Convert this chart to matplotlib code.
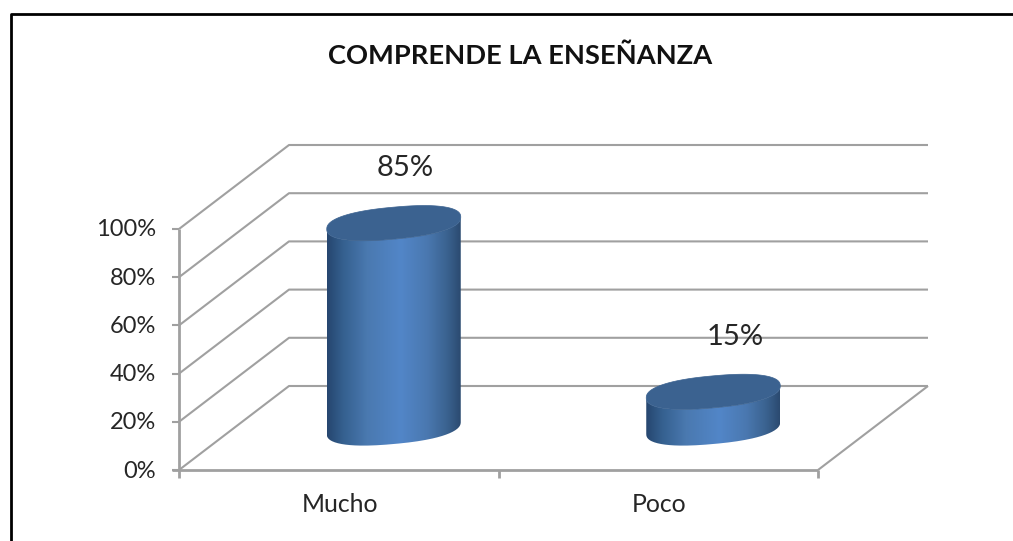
import numpy as np
import matplotlib
matplotlib.use('Agg')
import matplotlib.pyplot as plt
from matplotlib.colors import LinearSegmentedColormap
from matplotlib.patches import PathPatch, Polygon
from matplotlib.path import Path

categories = ['Mucho', 'Poco']
values = [85, 15]
value_labels = ['85%', '15%']
y_ticks = [0, 20, 40, 60, 80, 100]
y_tick_labels = ['0%', '20%', '40%', '60%', '80%', '100%']
title = 'COMPRENDE LA ENSEÑANZA'

W, H = 1013, 541
plt.rcParams['font.family'] = ['Lato', 'DejaVu Sans']

fig = plt.figure(figsize=(W / 100, H / 100), dpi=100)
# front plane of the 3d box, from 179..818 px across and 229..470 px down
ax = fig.add_axes([179 / W, 1 - 470 / H, 639 / W, 241 / H])
ax.set_xlim(0, len(categories))
ax.set_ylim(0, 100)
ax.axis('off')

# one pixel in data units, and the depth of the box
px = len(categories) / 639
py = 100 / 241
dx = 110 * px
dy = 84 * py
grid = '#a0a0a0'


def line(xs, ys, lw=1.5):
    ax.plot(xs, ys, color=grid, lw=lw, clip_on=False, solid_capstyle='butt', zorder=2)


# walls
for v in y_ticks:
    line([0, dx, len(categories) + dx], [v, v + dy, v + dy])
    line([-7 * px, 0], [v, v])
line([0, 0], [0, 100], 2)
# floor
line([-7 * px, len(categories)], [0, 0], 2)
line([len(categories), len(categories) + dx], [0, dy])
for i in range(len(categories) + 1):
    line([i, i], [0, -8 * py], 2)

for v, lab in zip(y_ticks, y_tick_labels):
    ax.text(-23 * px, v - 1 * py, lab, ha='right', va='center', fontsize=17, color='#262626', clip_on=False)
for i, lab in enumerate(categories):
    ax.text(i + 0.5 + 1 * px, -35 * py, lab, ha='center', va='center', fontsize=17.8, color='#262626', clip_on=False)

# cylinders, caps lean up to the right and are a bit fuller than a true ellipse
cmap = LinearSegmentedColormap.from_list('cyl', [
    (0.0, '#26466f'), (0.12, '#35608f'), (0.3, '#4a79b0'), (0.55, '#5286c8'),
    (0.75, '#4a78b0'), (0.9, '#3a628f'), (1.0, '#2b4a70')])
cap = '#3b6290'
rx = 67
ry = 16
lean = 6
power = 0.85
label_shift = [11, 22]


def rim(t):
    c, s = np.cos(t), np.sin(t)
    c = np.sign(c) * np.abs(c) ** power
    s = np.sign(s) * np.abs(s) ** power
    return rx * c * px, (ry * s + lean * c) * py


for i, v in enumerate(values):
    cx = i + 0.5 + dx / 2
    cy = dy / 2
    ex, ey = rim(np.linspace(0, 2 * np.pi, 200))
    # body outline: lower half of the base, then back along the same curve at the top
    bx, by = rim(np.linspace(np.pi, 2 * np.pi, 100))
    verts = np.column_stack([
        np.r_[cx + bx, cx + bx[::-1]],
        np.r_[cy + by, cy + v + by[::-1]],
    ])
    body = PathPatch(Path(np.vstack([verts, verts[:1]])), fc='none', ec='none', transform=ax.transData)
    ax.add_patch(body)
    im = ax.imshow(np.linspace(0, 1, 256).reshape(1, -1), cmap=cmap, aspect='auto', zorder=3,
                   extent=[cx - rx * px, cx + rx * px, cy - 40 * py, cy + v + 40 * py])
    im.set_clip_box(fig.bbox)
    im.set_clip_path(body)
    ax.add_patch(Polygon(np.column_stack([cx + ex, cy + v + ey]), closed=True, fc=cap, ec=cap,
                         lw=0.5, zorder=4, clip_on=False))
    ax.text(cx + label_shift[i] * px, cy + v + 55 * py, value_labels[i],
            ha='center', va='center', fontsize=21, color='#262626', zorder=5, clip_on=False)

ax.set_xlim(0, len(categories))
ax.set_ylim(0, 100)

fig.text(520 / W, 1 - 56 / H, title, ha='center', va='center', fontsize=19.6, fontweight='bold', color='#111111')

# chart frame, cut by the picture at the bottom and the right
fig.add_artist(plt.Line2D([10.5 / W, 10.5 / W, 1],
                          [0, 1 - 13.5 / H, 1 - 13.5 / H], color='black', lw=2))

fig.savefig('out.png', dpi=100)
